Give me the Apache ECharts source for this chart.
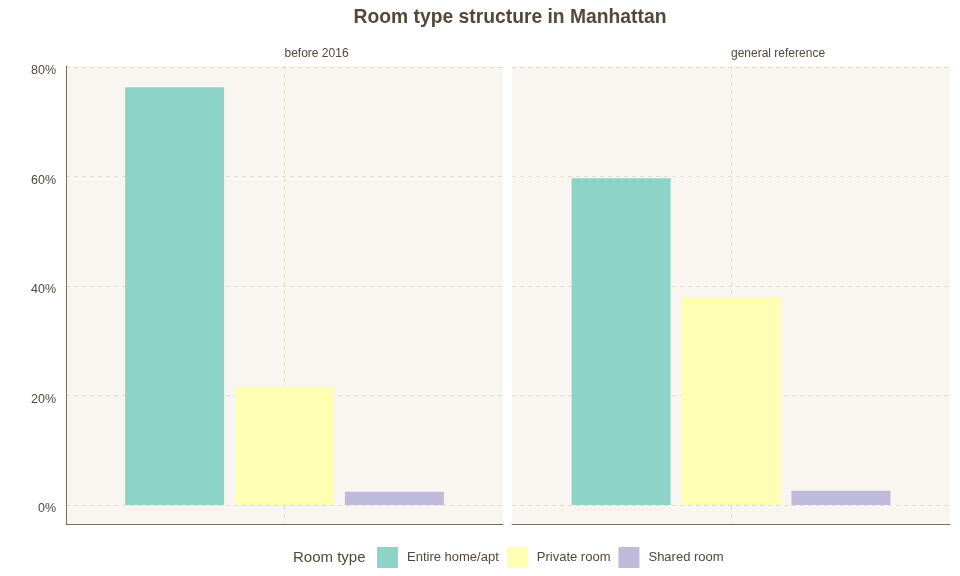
<!DOCTYPE html>
<html>
<head>
<meta charset="utf-8">
<script src="https://cdn.jsdelivr.net/npm/echarts@6/dist/echarts.min.js"></script>
<style>
  html, body { margin: 0; padding: 0; background: #fff; }
  #main { width: 960px; height: 576px; }
</style>
</head>
<body>
<div id="main"></div>
<script>
// facets, room types and shares (%)
var panels = ['before 2016', 'general reference'];
var roomTypes = ['Entire home/apt', 'Private room', 'Shared room'];
var entireHome = [76.3, 59.7];
var privateRoom = [21.5, 38.0];
var sharedRoom = [2.4, 2.6];
var yTicks = [0, 20, 40, 60, 80];
var colors = ['#8DD3C7', '#FFFFB3', '#BEBADA'];

var textColor = '#554739', font = 'Liberation Sans, Arial, sans-serif';
var gridColor = '#e2ddcc', lineColor = '#7d6b5d';

var panelLeft = [66, 512], panelWidth = [437, 438];
var values = [entireHome, privateRoom, sharedRoom];

var grids = [], xAxes = [], yAxes = [], series = [], graphics = [];

// background panels (full area, carry axis lines + vertical gridline)
panels.forEach(function(name, p) {
    grids.push({ left: panelLeft[p], top: 66, width: panelWidth[p], height: 458,
        show: true, backgroundColor: '#f9f6f1', borderWidth: 0, z: 0 });
    xAxes.push({ gridIndex: p, type: 'value', min: 0, max: 2, interval: 1, z: 1,
        axisLine: { show: true, onZero: false, lineStyle: { color: lineColor, width: 1 } },
        axisTick: { show: false }, axisLabel: { show: false },
        splitLine: { show: true, showMinLine: false, showMaxLine: false,
            lineStyle: { color: gridColor, type: [4, 4], width: 1 } } });
    yAxes.push({ gridIndex: p, type: 'value', min: 0, max: 1, z: 1,
        axisLine: { show: p === 0, lineStyle: { color: lineColor, width: 1 } },
        axisTick: { show: false }, axisLabel: { show: false }, splitLine: { show: false } });
    graphics.push({ type: 'text', left: panelLeft[p] + panelWidth[p] / 2, top: 48,
        style: { text: name, fill: textColor, font: '12px ' + font, textAlign: 'center' } });
});

// data grids: 0%..80% mapped onto 505..67
panels.forEach(function(name, p) {
    var gi = p + 2;
    grids.push({ left: panelLeft[p], top: 67, width: panelWidth[p], height: 438 });
    xAxes.push({ gridIndex: gi, type: 'category', data: ['Manhattan'], show: false });
    yAxes.push({ gridIndex: gi, type: 'value', min: yTicks[0], max: yTicks[yTicks.length - 1],
        interval: yTicks[1] - yTicks[0], z: 1,
        axisLine: { show: false }, axisTick: { show: false },
        axisLabel: { show: p === 0, formatter: '{value}%', color: textColor,
            fontSize: 12.5, fontFamily: font, margin: 10, lineHeight: 18, verticalAlign: 'top',
            padding: [-5, 0, 0, 0] },
        splitLine: { show: true, lineStyle: { color: gridColor, type: [4, 4], width: 1 } } });
    roomTypes.forEach(function(rt, k) {
        series.push({ name: rt, type: 'bar', xAxisIndex: gi, yAxisIndex: gi, z: 3,
            barWidth: 99, barGap: '11%', itemStyle: { color: colors[k] },
            data: [values[k][p]] });
    });
});

graphics.push({ type: 'text', left: 293, top: 550,
    style: { text: 'Room type', fill: textColor, font: '15px ' + font } });

var myChart = echarts.init(document.getElementById('main'));
myChart.setOption({
    animation: false,
    title: { text: 'Room type structure in Manhattan', left: 505, top: 3, textAlign: 'center',
        textStyle: { color: textColor, fontSize: 19.3, fontWeight: 'bold', fontFamily: font } },
    legend: { data: roomTypes, left: 377, top: 547, padding: 0, icon: 'rect', itemWidth: 21, itemHeight: 21,
        itemGap: 8, textStyle: { color: textColor, fontSize: 13, fontFamily: font, padding: [0, 0, 0, 4] } },
    grid: grids, xAxis: xAxes, yAxis: yAxes, series: series, graphic: graphics
});
</script>
</body>
</html>
